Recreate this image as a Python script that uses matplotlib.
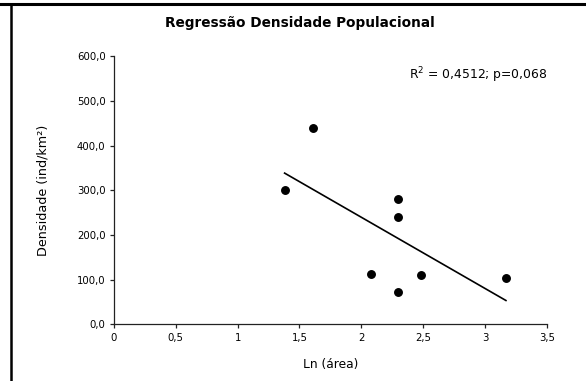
import numpy as np
import matplotlib
matplotlib.use("Agg")
import matplotlib.pyplot as plt
from matplotlib.lines import Line2D
from matplotlib.ticker import FuncFormatter, MultipleLocator

# dados
ln_area = [1.38, 1.61, 2.08, 2.30, 2.30, 2.30, 2.48, 3.17]
densidade = [300, 440, 113, 280, 240, 72, 110, 105]
texto_r2 = "R$^2$ = 0,4512; p=0,068"

plt.rcParams['font.family'] = ['DejaVu Sans']

fig = plt.figure(figsize=(5.86, 3.81), dpi=100)
ax = fig.add_axes([0.1945, 0.1483, 0.7385, 0.7047])

# pontos
ax.plot(ln_area, densidade, 'o', color='black', markersize=5.4, zorder=3)

# reta de regressão
a, b = np.polyfit(ln_area, densidade, 1)
xs = np.array([min(ln_area), max(ln_area)])
ax.plot(xs, a * xs + b, color='black', linewidth=1.2)

ax.set_xlim(0, 3.5)
ax.set_ylim(0, 600)
ax.xaxis.set_major_locator(MultipleLocator(0.5))
ax.yaxis.set_major_locator(MultipleLocator(100))

ax.xaxis.set_major_formatter(FuncFormatter(lambda v, p: ('%g' % v).replace('.', ',')))
ax.yaxis.set_major_formatter(FuncFormatter(lambda v, p: ('%.1f' % v).replace('.', ',')))

for s in ['top', 'right']:
    ax.spines[s].set_visible(False)
for s in ['left', 'bottom']:
    ax.spines[s].set_color('#222222')
    ax.spines[s].set_linewidth(0.9)
ax.tick_params(direction='out', length=3, width=0.9, color='#222222',
               labelsize=7.3, pad=3)

ax.set_xlabel('Ln (área)', fontsize=8.8, labelpad=11)
ax.set_ylabel('Densidade (ind/km²)', fontsize=9.2, labelpad=20)

ax.text(2.39, 557, texto_r2, fontsize=8.9, va='center', ha='left')

fig.text(0.511, 0.94, 'Regressão Densidade Populacional', fontsize=9.8,
         fontweight='bold', ha='center', va='center')

# moldura
fig.add_artist(Line2D([0, 1], [0.9895, 0.9895], transform=fig.transFigure,
                      color='black', linewidth=2.2))
fig.add_artist(Line2D([0.0195, 0.0195], [0, 0.99], transform=fig.transFigure,
                      color='black', linewidth=1.8))

fig.savefig('out.png', dpi=100)
